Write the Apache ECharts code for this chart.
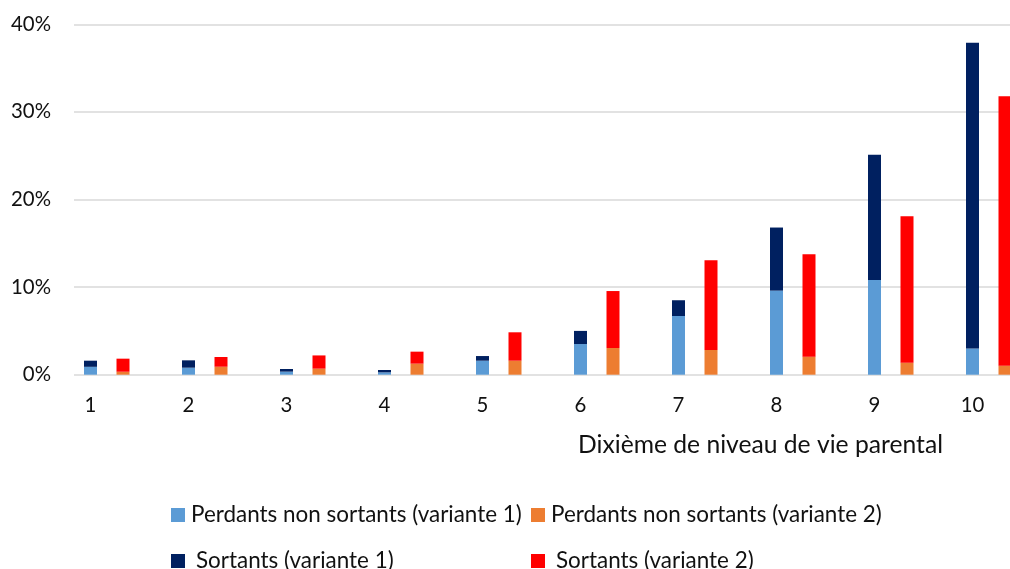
<!DOCTYPE html>
<html>
<head>
<meta charset="utf-8">
<script src="https://cdn.jsdelivr.net/npm/echarts@6/dist/echarts.min.js"></script>
<style>html,body{margin:0;padding:0;background:#fff}#c{width:1010px;height:569px}</style>
</head>
<body>
<div id="c"></div>
<script>
// ---- data ----
var categories = ['1','2','3','4','5','6','7','8','9','10'];
var perdantsV1 = [0.90, 0.80, 0.35, 0.27, 1.60, 3.50, 6.70, 9.60, 10.80, 3.00];
var sortantsV1 = [0.70, 0.84, 0.30, 0.27, 0.53, 1.50, 1.80, 7.20, 14.30, 34.90];
var perdantsV2 = [0.34, 0.91, 0.69, 1.26, 1.60, 3.05, 2.82, 2.06, 1.37, 1.03];
var sortantsV2 = [1.49, 1.11, 1.51, 1.37, 3.24, 6.50, 10.24, 11.68, 16.73, 30.77];
var seriesNames = ['Perdants non sortants (variante 1)', 'Perdants non sortants (variante 2)', 'Sortants (variante 1)', 'Sortants (variante 2)'];
var axisTitle = 'Dixième de niveau de vie parental';

var FONT = 'Lato';
var ctx = document.createElement('canvas').getContext('2d');
function fit(text, target) {
  ctx.font = '100px ' + FONT;
  return 100 * target / ctx.measureText(text).width;
}
var legendSize = fit(seriesNames[0], 331);
var titleSize = fit(axisTitle, 365);
var tickSize = fit('40%', 40);
var catSize = tickSize;

var colors = {pv1: '#5B9BD5', pv2: '#ED7D31', sv1: '#002060', sv2: '#FF0000'};
var txt = '#111';

var chart = echarts.init(document.getElementById('c'));
function legendAt(name, color, left, top, pad) {
  return {
    data: [{name: name, icon: 'rect', itemStyle: {color: color}}],
    left: left, top: top, orient: 'horizontal', padding: 0,
    itemWidth: 14, itemHeight: 14, itemGap: 0, selectedMode: false,
    textStyle: {fontFamily: FONT, fontSize: legendSize, color: txt, padding: [0, 0, 0, pad]}
  };
}
chart.setOption({
  animation: false,
  backgroundColor: '#fff',
  grid: [
    {left: 57.75, width: 980, top: 24.3, bottom: 194.3, outerBoundsMode: 'none', containLabel: false},
    {left: 74, right: 0, top: 24.3, bottom: 194.3, outerBoundsMode: 'none', containLabel: false}
  ],
  xAxis: [
    {type: 'category', gridIndex: 0, data: categories,
     axisLine: {show: false}, axisTick: {show: false},
     axisLabel: {fontFamily: FONT, fontSize: catSize, color: txt, margin: 21, padding: [0, 32.5, 0, 0], align: 'center'}},
    {type: 'value', gridIndex: 1, min: 0, max: 1, show: false}
  ],
  yAxis: [
    {type: 'value', gridIndex: 0, min: 0, max: 40, interval: 10, show: false, splitLine: {show: false}},
    {type: 'value', gridIndex: 1, min: 0, max: 40, interval: 10,
     axisLine: {show: false}, axisTick: {show: false},
     axisLabel: {formatter: '{value}%', fontFamily: FONT, fontSize: tickSize, color: txt, margin: 23},
     splitLine: {lineStyle: {color: '#d9d9d9', width: 1.5}}}
  ],
  legend: [
    legendAt(seriesNames[0], colors.pv1, 171, 504, 1),
    legendAt(seriesNames[1], colors.pv2, 531, 504, 1),
    legendAt(seriesNames[2], colors.sv1, 171, 550, 6),
    legendAt(seriesNames[3], colors.sv2, 531, 550, 6)
  ],
  graphic: [{
    type: 'text', x: 760.5, y: 445,
    style: {text: axisTitle, fontFamily: FONT, fontSize: titleSize, fill: txt, align: 'center', verticalAlign: 'middle'}
  }],
  series: [
    {name: seriesNames[0], type: 'bar', stack: 'v1', data: perdantsV1, barWidth: 13, barGap: '150%', itemStyle: {color: colors.pv1}},
    {name: seriesNames[2], type: 'bar', stack: 'v1', data: sortantsV1, barWidth: 13, barGap: '150%', itemStyle: {color: colors.sv1}},
    {name: seriesNames[1], type: 'bar', stack: 'v2', data: perdantsV2, barWidth: 13, barGap: '150%', itemStyle: {color: colors.pv2}},
    {name: seriesNames[3], type: 'bar', stack: 'v2', data: sortantsV2, barWidth: 13, barGap: '150%', itemStyle: {color: colors.sv2}}
  ]
});
</script>
</body>
</html>
